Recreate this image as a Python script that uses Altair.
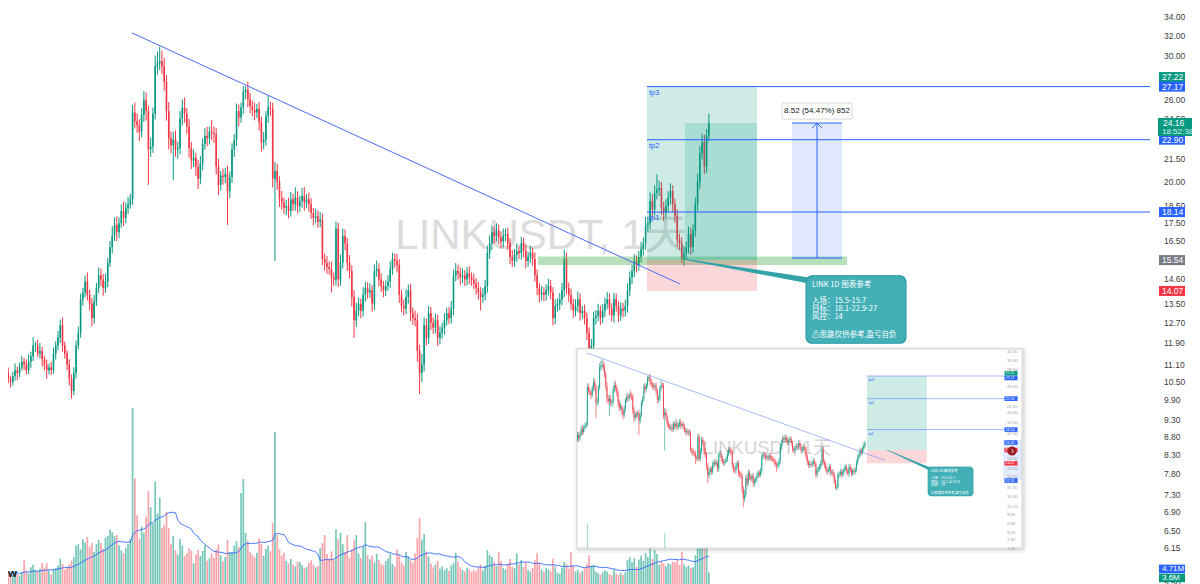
import altair as alt
import numpy as np
import pandas as pd

FONT = "Liberation Sans, Noto Sans CJK SC, sans-serif"
CJK = "Noto Sans CJK SC, Liberation Sans, sans-serif"
UP, DN = "#089981", "#f23645"
VUP, VDN = "rgba(8,153,129,0.55)", "rgba(242,54,69,0.45)"
BLUE = "#2962ff"

# ---------------- daily LINKUSDT bars ----------------
FIRST_OPEN = 11.0
CLOSE = [
    11.2, 11.3, 10.8, 10.6, 10.5, 10.7, 10.9, 10.8, 11.0, 11.2,
    11.1, 10.9, 11.2, 11.4, 11.8, 11.8, 11.5, 11.6, 11.3, 11.1,
    10.9, 11.0, 10.9, 11.5, 11.8, 12.1, 12.6, 11.8, 11.5, 11.1,
    10.6, 10.2, 10.8, 11.8, 12.3, 13.7, 14.0, 14.5, 13.9, 13.5,
    12.9, 13.6, 14.2, 14.8, 14.6, 14.2, 14.5, 15.4, 16.2, 16.8,
    17.4, 17.0, 17.5, 18.2, 17.8, 18.4, 18.6, 18.9, 25.0, 24.3,
    24.0, 23.5, 24.8, 26.0, 25.1, 22.2, 22.4, 24.9, 29.0, 29.3,
    29.5, 29.0, 27.6, 25.1, 23.0, 22.5, 22.9, 22.2, 22.3, 24.5,
    25.4, 24.9, 23.9, 22.3, 21.4, 21.6, 21.0, 20.2, 21.2, 22.6,
    23.2, 23.0, 23.5, 23.4, 23.3, 21.0, 19.8, 20.4, 20.3, 20.5,
    19.4, 20.3, 22.2, 22.9, 25.1, 24.6, 25.4, 26.7, 26.9, 26.1,
    25.5, 25.2, 25.0, 25.3, 24.2, 22.7, 22.9, 24.7, 25.4, 25.3,
    20.2, 20.7, 20.0, 19.0, 18.7, 18.4, 18.5, 18.2, 18.9, 18.6,
    19.0, 18.5, 18.8, 19.1, 18.7, 18.9, 18.6, 18.1, 17.8, 17.9,
    17.6, 17.7, 15.6, 15.4, 15.2, 15.1, 14.7, 14.6, 17.2, 14.6,
    15.4, 16.8, 16.4, 15.4, 15.0, 13.8, 12.8, 13.2, 13.5, 13.2,
    13.9, 14.2, 14.0, 14.1, 13.5, 15.0, 15.1, 14.6, 14.3, 14.1,
    14.3, 14.5, 15.1, 15.6, 15.5, 15.3, 13.9, 13.4, 13.3, 13.8,
    14.1, 13.1, 12.9, 12.8, 11.6, 10.8, 11.1, 12.6, 12.1, 13.1,
    12.7, 12.5, 12.8, 12.1, 12.3, 12.5, 12.8, 13.1, 12.9, 13.3,
    14.8, 15.0, 14.9, 14.7, 14.8, 14.6, 14.9, 14.7, 14.6, 14.4,
    14.2, 14.0, 13.8, 13.9, 14.3, 15.9, 16.4, 17.0, 16.8, 17.1,
    16.7, 16.5, 16.8, 16.9, 16.4, 15.7, 15.5, 15.8, 16.0, 15.9,
    16.4, 16.0, 15.5, 15.7, 15.9, 15.6, 14.8, 14.2, 13.9, 14.0,
    13.9, 14.1, 14.3, 14.0, 12.9, 13.4, 13.5, 13.7, 14.1, 15.6,
    14.2, 13.9, 13.5, 13.2, 13.4, 13.7, 13.1, 13.2, 12.9, 12.3,
    11.7, 11.8, 12.9, 13.0, 13.2, 12.9, 13.2, 13.5, 13.7, 13.3,
    13.0, 13.7, 13.4, 13.0, 13.3, 13.2, 13.4, 14.1, 14.7, 15.0,
    15.5, 15.3, 15.7, 16.1, 16.4, 17.4, 17.5, 18.8, 18.3, 19.3,
    19.5, 19.6, 18.4, 18.1, 18.5, 19.0, 19.4, 18.6, 17.9, 16.6,
    16.4, 15.6, 15.9, 16.2, 16.9, 16.2, 17.1, 18.6, 20.0, 21.9,
    22.7, 21.0, 23.2, 24.16,
]
UPPER_WICK_PCT = [
    1.5, 2.0, 1.2, 1.8, 1.0, 1.4, 2.2, 1.1, 1.6, 2.0,
    1.3, 1.7, 2.4, 1.5, 2.8, 1.2, 1.9, 2.6, 1.4, 1.0,
    1.6, 1.2, 1.8, 2.0, 1.5, 2.2, 1.8, 2.5, 1.3, 1.1,
    1.7, 1.4, 1.9, 1.6, 2.0, 1.8, 1.5, 2.0, 3.0, 1.6,
    1.8, 2.1, 1.7, 2.5, 2.2, 1.9, 2.6, 1.5, 2.0, 3.1,
    2.4, 2.8, 1.9, 2.2, 3.0, 1.7, 2.5, 1.8, 2.4, 3.2,
    2.6, 1.9, 2.2, 3.0, 2.5, 1.8, 2.9, 2.0, 3.5, 3.8,
    4.7, 3.4, 2.8, 2.1, 3.0, 2.2, 2.6, 3.1, 2.0, 2.5,
    2.7, 3.3, 1.9, 2.4, 2.0, 2.8, 1.6, 2.2, 2.5, 1.8,
    2.4, 2.9, 1.7, 3.8, 2.2, 2.0, 2.6, 1.5, 2.3, 2.1,
    2.8, 1.9, 2.0, 1.8, 2.5, 2.2, 1.6, 1.9, 1.1, 2.6,
    2.0, 1.8, 2.4, 1.6, 2.2, 1.9, 2.5, 1.7, 3.9, 1.8,
    2.0, 3.0, 2.4, 1.8, 2.2, 1.6, 2.0, 2.7, 2.3, 1.9,
    3.4, 2.1, 1.8, 2.6, 2.9, 1.7, 2.2, 2.0, 1.6, 2.4,
    1.9, 2.5, 2.0, 1.7, 2.2, 1.8, 2.4, 1.6, 2.3, 1.9,
    2.7, 2.4, 2.1, 1.8, 2.5, 1.9, 2.2, 2.6, 2.0, 1.7,
    2.4, 2.1, 1.9, 2.3, 1.7, 2.2, 2.8, 1.9, 2.0, 1.6,
    1.8, 2.1, 2.6, 2.0, 1.7, 2.3, 1.9, 1.6, 2.2, 2.5,
    1.9, 2.1, 1.8, 2.4, 2.2, 2.0, 3.5, 2.6, 2.2, 2.4,
    2.0, 1.7, 2.2, 1.9, 2.1, 1.6, 2.3, 1.8, 2.0, 2.4,
    1.8, 2.6, 2.1, 1.9, 2.2, 1.7, 2.0, 2.3, 1.6, 1.9,
    1.8, 2.0, 1.7, 2.2, 1.9, 2.4, 2.6, 2.0, 1.8, 2.3,
    1.9, 2.1, 2.4, 1.8, 2.0, 1.7, 2.2, 1.9, 2.5, 1.8,
    2.2, 1.9, 2.0, 1.7, 2.4, 1.8, 2.1, 1.9, 1.6, 2.2,
    1.8, 2.0, 2.3, 1.9, 1.7, 2.2, 1.8, 2.0, 2.4, 3.0,
    2.1, 1.8, 2.0, 1.7, 2.2, 2.5, 1.9, 1.6, 2.0, 1.8,
    1.7, 2.2, 2.0, 1.8, 2.3, 1.6, 2.1, 1.9, 2.4, 1.8,
    1.7, 2.2, 1.9, 1.6, 2.0, 1.8, 2.1, 2.3, 1.9, 2.0,
    2.2, 1.8, 2.0, 2.4, 1.9, 2.6, 2.1, 2.8, 2.2, 2.5,
    5.0, 2.4, 2.0, 1.9, 2.2, 2.1, 2.6, 2.0, 1.8, 2.2,
    1.9, 2.0, 2.3, 1.8, 2.4, 2.0, 1.9, 2.2, 2.6, 2.4,
    2.8, 2.5, 2.2, 3.0,
]
LOWER_WICK_PCT = [
    1.2, 1.6, 2.0, 1.4, 1.8, 1.1, 1.5, 2.2, 1.3, 1.0,
    1.7, 1.4, 1.2, 1.9, 1.5, 2.0, 1.1, 1.6, 2.4, 1.8,
    2.8, 1.3, 1.5, 1.2, 1.9, 1.4, 1.7, 2.0, 1.6, 1.8,
    2.2, 2.5, 1.4, 1.7, 1.2, 1.6, 2.0, 1.5, 1.8, 2.1,
    2.6, 1.9, 1.4, 1.6, 2.2, 2.4, 1.5, 1.8, 1.3, 2.0,
    1.6, 2.8, 1.9, 1.5, 2.6, 1.7, 2.0, 1.4, 1.8, 2.3,
    2.5, 3.0, 1.8, 2.2, 2.9, 10.8, 2.4, 2.0, 1.9, 2.6,
    2.2, 2.5, 2.8, 3.0, 3.5, 2.6, 10.7, 2.4, 3.0, 2.0,
    2.2, 2.8, 2.4, 3.1, 2.6, 2.0, 2.9, 3.3, 1.8, 2.1,
    1.9, 2.6, 2.0, 2.3, 2.7, 2.5, 3.2, 1.8, 2.4, 2.0,
    10.3, 2.2, 1.9, 2.4, 2.0, 2.8, 1.7, 2.1, 2.3, 2.6,
    2.2, 2.0, 2.5, 1.8, 2.6, 2.9, 2.2, 1.9, 2.1, 2.3,
    2.8, 23.3, 2.6, 2.9, 2.2, 2.0, 2.5, 2.3, 1.8, 2.1,
    2.0, 2.4, 1.9, 2.2, 2.6, 1.8, 2.3, 2.0, 2.4, 1.7,
    2.1, 1.9, 2.0, 2.5, 2.2, 1.8, 4.8, 2.1, 1.9, 2.4,
    2.0, 1.8, 2.2, 2.6, 2.3, 3.0, 5.5, 2.1, 1.8, 2.4,
    1.9, 2.2, 2.0, 1.7, 2.5, 2.1, 1.8, 2.3, 2.0, 2.2,
    1.9, 1.6, 2.0, 1.8, 2.1, 2.4, 2.6, 2.0, 2.2, 1.8,
    2.1, 2.5, 2.2, 2.0, 3.5, 6.5, 2.8, 2.2, 2.5, 2.0,
    2.3, 2.0, 1.8, 2.6, 2.1, 1.9, 2.2, 1.7, 2.0, 1.8,
    2.2, 1.9, 2.0, 2.4, 1.8, 2.1, 1.9, 2.2, 2.0, 1.7,
    2.1, 2.3, 4.3, 2.0, 1.8, 2.2, 1.9, 2.1, 2.4, 1.8,
    2.0, 2.2, 1.9, 1.7, 2.1, 2.3, 2.0, 1.8, 2.2, 1.9,
    2.1, 2.0, 2.4, 1.8, 1.9, 2.2, 2.0, 2.3, 2.5, 1.8,
    2.0, 1.9, 1.7, 2.2, 2.4, 2.0, 1.8, 2.1, 1.9, 2.2,
    2.0, 2.3, 1.9, 2.2, 1.8, 2.0, 2.4, 1.7, 2.1, 2.3,
    1.2, 2.0, 1.8, 2.1, 1.9, 2.2, 1.7, 2.0, 1.8, 2.1,
    1.9, 2.2, 1.8, 2.0, 1.7, 2.1, 1.9, 2.0, 1.8, 2.2,
    2.0, 2.4, 1.9, 1.8, 2.1, 2.0, 2.2, 1.9, 2.5, 2.0,
    2.1, 2.0, 2.3, 2.6, 1.9, 2.0, 2.2, 2.4, 2.1, 2.3,
    2.0, 1.3, 2.2, 1.9, 2.0, 2.4, 1.8, 2.0, 2.1, 2.2,
    1.9, 2.3, 2.0, 1.8,
]
VOLUME_M = [
    3.5, 2.8, 4.2, 3.6, 3.1, 2.9, 4.0, 3.2, 2.7, 3.8,
    7.5, 4.1, 3.3, 5.2, 6.0, 4.4, 3.9, 4.8, 6.6, 5.1,
    6.5, 4.2, 3.0, 4.6, 5.0, 5.8, 7.9, 6.2, 4.5, 5.0,
    6.1, 7.3, 8.4, 12.0, 12.5, 10.8, 14.0, 13.0, 14.7, 11.5,
    12.8, 10.0, 12.5, 13.8, 12.8, 11.0, 14.5, 15.0, 17.0, 16.2,
    15.0, 15.3, 12.0, 10.5, 9.6, 11.2, 12.4, 14.0, 55.0, 33.0,
    21.5, 14.0, 18.0, 16.0, 21.0, 29.0, 24.0, 19.0, 32.0, 22.0,
    27.0, 17.5, 18.5, 22.5, 17.5, 12.5, 15.0, 10.5, 9.2, 14.1,
    12.0, 8.8, 9.6, 11.2, 10.4, 6.5, 9.2, 10.6, 8.7, 10.3,
    12.0, 7.3, 8.0, 9.6, 8.1, 10.9, 12.4, 9.0, 7.1, 8.4,
    13.8, 9.9, 10.1, 12.0, 13.4, 11.5, 28.4, 32.8, 16.0, 13.5,
    10.0, 9.1, 8.4, 9.8, 14.3, 12.6, 8.8, 10.9, 12.0, 10.2,
    19.0, 47.5, 15.3, 11.0, 8.9, 9.8, 7.2, 6.5, 7.8, 6.1,
    5.5, 7.0, 6.8, 5.9, 4.9, 5.4, 6.6, 7.4, 6.0, 5.2,
    5.6, 11.2, 12.8, 15.3, 9.4, 8.0, 10.2, 7.5, 17.0, 14.0,
    16.0, 12.4, 10.0, 15.3, 8.3, 10.8, 13.6, 15.3, 9.6, 8.1,
    11.8, 19.4, 9.0, 7.7, 8.8, 6.8, 9.4, 7.5, 6.2, 5.9,
    7.1, 8.0, 9.5, 6.3, 5.5, 10.8, 9.1, 6.7, 5.9, 10.0,
    8.6, 7.4, 6.6, 9.5, 14.5, 20.6, 13.8, 15.6, 10.2, 8.6,
    6.4, 5.2, 6.0, 7.1, 4.8, 5.5, 4.3, 5.0, 4.1, 5.8,
    6.5, 9.8, 7.0, 5.2, 4.4, 3.9, 5.1, 4.6, 3.8, 4.4,
    3.9, 5.3, 6.1, 4.2, 5.8, 10.6, 9.0, 8.4, 6.9, 5.6,
    10.0, 7.2, 5.1, 4.6, 6.3, 7.8, 5.4, 4.9, 9.6, 6.2,
    7.5, 5.3, 6.8, 4.4, 3.9, 5.0, 7.4, 9.6, 6.7, 4.5,
    3.8, 5.1, 4.6, 4.0, 7.9, 5.4, 3.6, 3.2, 5.1, 6.9,
    6.2, 4.8, 10.0, 5.6, 3.9, 4.4, 3.5, 4.1, 4.9, 6.3,
    9.0, 5.7, 6.0, 3.8, 3.3, 2.9, 3.6, 4.2, 3.9, 3.1,
    2.7, 4.5, 3.2, 2.9, 3.4, 2.8, 3.6, 7.5, 8.4, 6.9,
    8.1, 5.3, 7.6, 8.8, 7.2, 9.7, 8.4, 11.3, 7.8, 10.6,
    9.4, 6.0, 7.2, 6.4, 5.5, 6.5, 6.2, 7.0, 6.8, 7.5,
    5.9, 10.0, 6.1, 5.3, 5.8, 5.0, 5.2, 9.0, 15.0, 16.5,
    14.2, 12.8, 15.6, 3.6,
]

# ---------------- axis labels & drawing tools ----------------
PRICE_TICKS = [36.0, 34.0, 32.0, 30.0, 26.0, 24.5, 21.5, 20.0, 18.5, 17.5, 16.5, 14.6,
               13.5, 12.7, 11.9, 11.1, 10.5, 9.9, 9.3, 8.8, 8.3, 7.8, 7.3, 6.9, 6.5, 6.15, 5.5]
INSET_TICKS = [32.5, 30.5, 28.5, 25.0, 23.0, 21.5, 20.5, 19.0, 17.5, 14.5, 13.5, 12.7,
               11.7, 10.9, 10.1, 9.5, 8.9, 8.3, 7.9, 7.4]
WATERMARK = "LINKUSDT, 1天"
TREND_I, TREND_P = [57.7, 300.2], [32.3, 14.39]
TP_NAMES = ["tp3", "tp2", "tp1"]
TP_LEVELS = [27.17, 22.90, 18.14]
ENTRY, STOP, LAST = 15.54, 14.07, 24.16
POS_I = [285.6, 334.3]
POS_FILL_I = 302.4
LINE_END_I = 508.2
ZONE_I, ZONE_P = [237.4, 374.1], [15.30, 15.72]
MEASURE_I, MEASURE_P = [349.8, 371.9], [15.64, 24.16]
MEASURE_LABEL = "8.52 (54.47%) 852"
CALLOUT_I, CALLOUT_P = [356.0, 400.2], [14.77, 11.89]
POINTER_I, POINTER_P, POINTER_W = [301.5, 358.6], [15.59, 14.53], [1.0, 6.0]
CALLOUT_TEXT_AT = (358.6, 14.53)
CALLOUT_BLOCKS = [  # text block, pixel drop from the first line
    ("LINK 1D 图表参考", 0),
    ("入场：15.5-15.7\n目标：18.1-22.9-27\n风控：14", 16),
    ("⚠思路仅供参考,盈亏自负", 50),
]
BADGES = [  # value, label, color, pixel nudge
    (27.22, "27.22", UP, -9), (27.17, "27.17", BLUE, 0), (22.90, "22.90", BLUE, 0),
    (18.14, "18.14", BLUE, 0), (15.54, "15.54", "#787b86", 0), (14.07, "14.07", DN, 0),
]
VOL_BADGES = [(4.71, "4.71M", BLUE, 0), (3.6, "3.6M", UP, 5.5)]
COUNTDOWN = "18:52:38"
INSET_BARS = [50, 284]
INSET_LINE_END_I = 398.0
INSET_BADGES = [(27.22, UP, -2.5), (27.17, BLUE, 2), (22.90, BLUE, 0), (18.14, BLUE, 0),
                (16.45, BLUE, 0), (15.54, DN, 0), (14.07, DN, 0), (12.35, BLUE, 0)]
INSET_CALLOUT_I, INSET_CALLOUT_P = [335.3, 372.0], [13.69, 11.0]
INSET_POINTER_I, INSET_POINTER_P, INSET_POINTER_W = [301.9, 338.5], [15.55, 13.4], [0.6, 3.0]
INSET_TEXT_AT = (337.7, 13.5)
INSET_TEXT_SCALE = 0.45

# ---------------- frame ----------------
n = len(CLOSE)
assert all(len(a) == n for a in (UPPER_WICK_PCT, LOWER_WICK_PCT, VOLUME_M))
idx = np.arange(n)
c = np.array(CLOSE, float)
o = np.concatenate([[FIRST_OPEN], c[:-1]])
top, bot = np.maximum(o, c), np.minimum(o, c)
up = c >= o
df = pd.DataFrame(dict(
    i=idx, o=o, c=c,
    h=top * (1 + np.array(UPPER_WICK_PCT) / 100),
    l=bot * (1 - np.array(LOWER_WICK_PCT) / 100),
    bb=bot, bt=np.where(top / bot < 1.003, bot * 1.003, top),
    v=VOLUME_M, v0=0.0,
    col=np.where(up, UP, DN), vcol=np.where(up, VUP, VDN),
    xl=idx - 0.36, xr=idx + 0.36, vxl=idx - 0.38, vxr=idx + 0.38,
))
di = df[(df.i >= INSET_BARS[0]) & (df.i <= INSET_BARS[1])].copy()

W, H = 1200, 584
PX0, PXBAR = 1.5, 2.26
XS = alt.Scale(domain=[-PX0 / PXBAR, (W - PX0) / PXBAR], range=[0, W], nice=False, zero=False)
YS = alt.Scale(type="log", domain=[5.4757, 35.91], range=[H, 0], nice=False)
VS = alt.Scale(domain=[0, 182.5], range=[H, 0], nice=False, zero=False)
XI = alt.Scale(domain=INSET_BARS, range=[577.5, 865.0], nice=False, zero=False)
YI = alt.Scale(type="log", domain=[7.43, 33.3], range=[548, 349], nice=False)
VI = alt.Scale(domain=[36, 55], range=[548, 523], nice=False, zero=False)


def one(**kw):
    return pd.DataFrame({k: [v] for k, v in kw.items()})


def qx(f, s):
    return alt.X(f"{f}:Q", scale=s, axis=None)


def qy(f, s):
    return alt.Y(f"{f}:Q", scale=s, axis=None)


def box(i0, i1, p0, p1, xs, ys, **mk):
    return alt.Chart(one(i0=i0, i1=i1, p0=p0, p1=p1)).mark_rect(**mk).encode(
        x=qx("i0", xs), x2="i1:Q", y=qy("p0", ys), y2="p1:Q")


def hline(i0, i1, p, xs, ys, **mk):
    return alt.Chart(one(i0=i0, i1=i1, p=p)).mark_rule(**mk).encode(
        x=qx("i0", xs), x2="i1:Q", y=qy("p", ys))


def vline(i, p0, p1, xs, ys, **mk):
    return alt.Chart(one(i=i, p0=p0, p1=p1)).mark_rule(**mk).encode(
        x=qx("i", xs), y=qy("p0", ys), y2="p1:Q")


def seg(il, pl, xs, ys, **mk):
    return alt.Chart(pd.DataFrame({"i": il, "p": pl})).mark_line(**mk).encode(
        x=qx("i", xs), y=qy("p", ys))


def label(i, p, t, xs, ys, **mk):
    return alt.Chart(one(i=i, p=p, t=t)).mark_text(**mk).encode(
        x=qx("i", xs), y=qy("p", ys), text="t:N")


def trail(il, pl, wl, xs, ys, **mk):
    return alt.Chart(pd.DataFrame({"i": il, "p": pl, "w": wl})).mark_trail(**mk).encode(
        x=qx("i", xs), y=qy("p", ys), size=alt.Size("w:Q", scale=None, legend=None))


def prect(x0, x1, y0, y1, **mk):
    return alt.Chart(one(a=0)).mark_rect(**mk).encode(
        x=alt.value(x0), x2=alt.value(x1), y=alt.value(y0), y2=alt.value(y1))


def ptext(x, y, t, **mk):
    return alt.Chart(one(t=t)).mark_text(**mk).encode(x=alt.value(x), y=alt.value(y), text="t:N")


def candles(d, xs, ys, wick, **mk):
    base = alt.Chart(d)
    return [
        base.mark_rule(strokeWidth=wick, **mk).encode(
            x=qx("i", xs), y=qy("l", ys), y2="h:Q",
            color=alt.Color("col:N", scale=None, legend=None)),
        base.mark_rect(**mk).encode(
            x=qx("xl", xs), x2="xr:Q", y=qy("bb", ys), y2="bt:Q",
            color=alt.Color("col:N", scale=None, legend=None)),
    ]


def badge(value, text, color, ys, dy=0, xc=1172, w=26, h=10, xt=1162, fs=8.5):
    d = alt.Chart(one(p=value, t=text))
    return [
        d.mark_tick(orient="horizontal", size=w, thickness=h, color=color, opacity=1,
                    yOffset=dy).encode(x=alt.value(xc), y=qy("p", ys)),
        d.mark_text(align="left", baseline="middle", dy=dy, fontSize=fs, color="white",
                    font=FONT).encode(x=alt.value(xt), y=qy("p", ys), text="t:N"),
    ]


def callout_text(at, xs, ys, scale=1.0):
    out = []
    for txt, drop in CALLOUT_BLOCKS:
        out.append(label(at[0], at[1], txt, xs, ys, align="left", baseline="top", dy=drop * scale,
                         lineBreak="\n", lineHeight=8 * scale, fontSize=7.5 * scale,
                         color="white", font=CJK))
    return out


layers = []
# volume pane
layers.append(alt.Chart(df).mark_rect().encode(
    x=qx("vxl", XS), x2="vxr:Q", y=qy("v", VS), y2="v0:Q",
    color=alt.Color("vcol:N", scale=None, legend=None)))
layers.append(alt.Chart(df).transform_window(
    ma="mean(v)", frame=[-19, 0], sort=[{"field": "i"}]
).mark_line(color=BLUE, strokeWidth=1, opacity=0.85).encode(x=qx("i", XS), y=qy("ma", VS)))
# watermark
layers.append(ptext(541, 236, WATERMARK, font=FONT, fontSize=42, color="#dcdcdc",
                    align="center", baseline="middle"))
# candles
layers += candles(df, XS, YS, 1.0)
# drawing tools
layers.append(box(ZONE_I[0], ZONE_I[1], ZONE_P[0], ZONE_P[1], XS, YS, color="#4caf50", opacity=0.4))
layers.append(box(POS_I[0], POS_I[1], ENTRY, TP_LEVELS[0], XS, YS, color=UP, opacity=0.2))
layers.append(box(POS_FILL_I, POS_I[1], ENTRY, LAST, XS, YS, color=UP, opacity=0.18))
layers.append(box(POS_I[0], POS_I[1], STOP, ENTRY, XS, YS, color=DN, opacity=0.2))
for name, lv in zip(TP_NAMES, TP_LEVELS):
    layers.append(hline(POS_I[0], LINE_END_I, lv, XS, YS, color=BLUE, strokeWidth=1))
    layers.append(label(POS_I[0], lv, name, XS, YS, align="left", baseline="top", dx=2, dy=2,
                        fontSize=7.5, color=BLUE, font=FONT))
layers.append(seg(TREND_I, TREND_P, XS, YS, color="#4a6cf7", strokeWidth=1))
# measure tool
mid = (MEASURE_I[0] + MEASURE_I[1]) / 2
layers.append(box(MEASURE_I[0], MEASURE_I[1], MEASURE_P[0], MEASURE_P[1], XS, YS, color=BLUE, opacity=0.15))
layers.append(hline(MEASURE_I[0], MEASURE_I[1], MEASURE_P[0], XS, YS, color=BLUE, strokeWidth=1))
layers.append(hline(MEASURE_I[0], MEASURE_I[1], MEASURE_P[1], XS, YS, color=BLUE, strokeWidth=1))
layers.append(vline(mid, MEASURE_P[0], MEASURE_P[1], XS, YS, color=BLUE, strokeWidth=1))
layers.append(alt.Chart(one(i=mid, p=MEASURE_P[1])).mark_point(
    shape="M-1,1L0,0L1,1", size=100, filled=False, color=BLUE, strokeWidth=1, opacity=1
).encode(x=qx("i", XS), y=qy("p", YS)))
layers.append(alt.Chart(one(i=mid, p=MEASURE_P[1])).mark_point(
    shape="M-1,-0.229L1,-0.229L1,0.229L-1,0.229Z", size=4900, filled=True, fill="white",
    stroke="#d6d8de", strokeWidth=1, opacity=1, fillOpacity=1, strokeOpacity=1, yOffset=-12
).encode(x=qx("i", XS), y=qy("p", YS)))
layers.append(label(mid, MEASURE_P[1], MEASURE_LABEL, XS, YS, align="center", baseline="middle",
                    dy=-12, fontSize=8, color="#131722", font=FONT))
# callout
layers.append(trail(POINTER_I, POINTER_P, POINTER_W, XS, YS, color="#33a3aa"))
layers.append(box(CALLOUT_I[0], CALLOUT_I[1], CALLOUT_P[0], CALLOUT_P[1], XS, YS,
                  fill="#43b0b8", stroke="#2a9ba3", strokeWidth=1.2, cornerRadius=6, opacity=1))
layers += callout_text(CALLOUT_TEXT_AT, XS, YS)

# ---------------- inset (earlier screenshot) ----------------
layers.append(prect(574, 1027, 347, 553, color="#000", opacity=0.04, cornerRadius=4))
layers.append(prect(576, 1025, 348, 551, color="#000", opacity=0.07, cornerRadius=3))
layers.append(prect(577, 1022, 349, 548, fill="white", stroke="#d9d9d9", strokeWidth=1, opacity=1))
layers.append(alt.Chart(di[di.v > 36]).transform_calculate(lim="36").mark_rect(opacity=0.8).encode(
    x=qx("vxl", XI), x2="vxr:Q", y=qy("v", VI), y2=alt.Y2("lim:Q"),
    color=alt.Color("vcol:N", scale=None, legend=None)))
layers.append(ptext(767, 448, WATERMARK, font=FONT, fontSize=18.5, color="#d4d4d4",
                    align="center", baseline="middle"))
layers += candles(di, XI, YI, 0.7, opacity=0.85)
layers.append(box(POS_I[0], POS_I[1], ENTRY, TP_LEVELS[0], XI, YI, color=UP, opacity=0.2))
layers.append(box(POS_I[0], POS_I[1], STOP, ENTRY, XI, YI, color=DN, opacity=0.2))
for name, lv in zip(TP_NAMES, TP_LEVELS):
    layers.append(hline(POS_I[0], INSET_LINE_END_I, lv, XI, YI, color=BLUE, strokeWidth=0.8, opacity=0.55))
    layers.append(label(POS_I[0], lv, name, XI, YI, align="left", baseline="top", dx=1.5, dy=2,
                        fontSize=3.8, color=BLUE, font=FONT))
layers.append(seg(TREND_I, TREND_P, XI, YI, color="#4a6cf7", strokeWidth=0.8, opacity=0.6))
layers.append(prect(1003, 1022, 440, 480, color=BLUE, opacity=0.13))
layers.append(alt.Chart(pd.DataFrame({"p": INSET_TICKS, "t": [f"{v:.2f}" for v in INSET_TICKS]})).mark_text(
    align="left", baseline="middle", fontSize=4.2, color="#9a9a9a", font=FONT
).encode(x=alt.value(1007), y=qy("p", YI), text="t:N"))
for v, col, dy in INSET_BADGES:
    layers += badge(v, f"{v:.2f}", col, YI, dy=dy, xc=1011, w=13, h=4.6, xt=1005.5, fs=3.6)
layers.append(alt.Chart(one(a=0)).mark_point(shape="circle", filled=True, color="#9e1c25",
                                             size=85, opacity=1).encode(x=alt.value(1012), y=alt.value(451)))
layers.append(ptext(1012.5, 451, "›", fontSize=9, color="white", align="center", baseline="middle",
                    font=FONT))
layers.append(trail(INSET_POINTER_I, INSET_POINTER_P, INSET_POINTER_W, XI, YI, color="#33a3aa"))
layers.append(box(INSET_CALLOUT_I[0], INSET_CALLOUT_I[1], INSET_CALLOUT_P[0], INSET_CALLOUT_P[1], XI, YI,
                  fill="#43b0b8", stroke="#2a9ba3", strokeWidth=0.6, cornerRadius=3, opacity=1))
layers += callout_text(INSET_TEXT_AT, XI, YI, scale=INSET_TEXT_SCALE)

# ---------------- right price scale ----------------
layers.append(alt.Chart(pd.DataFrame({"p": PRICE_TICKS, "t": [f"{v:.2f}" for v in PRICE_TICKS]})).mark_text(
    align="left", baseline="middle", fontSize=8.5, color="#3d3d3d", font=FONT
).encode(x=alt.value(1164), y=qy("p", YS), text="t:N"))
for v, t, col, dy in BADGES:
    layers += badge(v, t, col, YS, dy=dy)
# last price badge with countdown
lp = alt.Chart(one(p=LAST, t=f"{LAST:.2f}", cd=COUNTDOWN))
layers.append(lp.mark_tick(orient="horizontal", size=36, thickness=18, color=UP, opacity=1,
                           yOffset=4).encode(x=alt.value(1176), y=qy("p", YS)))
layers.append(lp.mark_text(align="left", baseline="middle", fontSize=8.5, color="white", font=FONT
                           ).encode(x=alt.value(1163), y=qy("p", YS), text="t:N"))
layers.append(lp.mark_text(align="left", baseline="middle", dy=9, fontSize=8, color="#d9f2ec", font=FONT
                           ).encode(x=alt.value(1162), y=qy("p", YS), text="cd:N"))
for v, t, col, dy in VOL_BADGES:
    layers += badge(v, t, col, VS, dy=dy, h=8.6, fs=8)
layers.append(ptext(17, 577, "TradingView", fontSize=11.5, fontWeight="bold", color="#131722",
                    align="right", baseline="alphabetic", font=FONT))

# negative padding lets the plot run to the window edges (page margin is 8px);
# right -8 keeps the svg within the 1184px body so it is not shrunk
chart = alt.layer(*layers).resolve_scale(x="independent", y="independent").properties(
    width=W, height=H,
    padding={"left": -8, "top": -8, "right": -8, "bottom": 0},
    autosize=alt.AutoSizeParams(type="none"),
    background="white",
).configure_view(stroke=None)

chart.save("out.html", embed_options={"renderer": "svg", "actions": False})
